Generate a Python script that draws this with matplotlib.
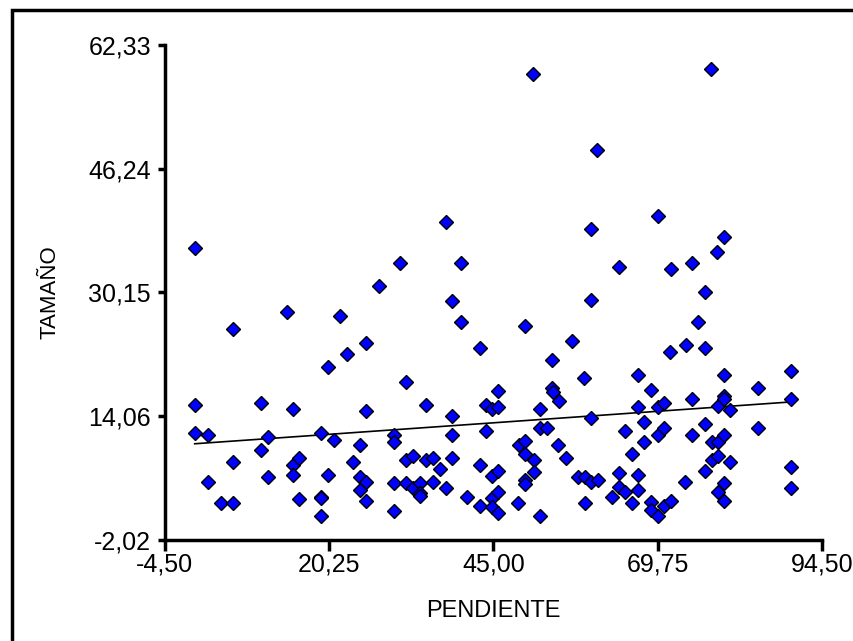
import numpy as np
import matplotlib
matplotlib.use("Agg")
import matplotlib.pyplot as plt
from matplotlib.patches import Rectangle

# slope (PENDIENTE) and size (TAMAÑO) of each sample
pendiente = [
    0.0, 0.0, 0.0, 2.0, 5.76, 5.76, 2.0, 3.9, 5.76, 10.0,
    11.0, 10.0, 11.0, 13.87, 14.87, 14.87, 15.77, 14.87, 15.77, 19.0,
    19.0, 19.0, 19.0, 20.03, 20.03, 20.98, 21.9, 22.9, 23.9, 24.9,
    24.9, 25.8, 24.9, 25.8, 25.8, 25.8, 27.8, 30.0, 30.0, 30.0,
    30.0, 31.0, 31.9, 31.9, 32.9, 31.9, 32.9, 33.9, 33.9, 33.9,
    34.9, 34.9, 35.9, 35.9, 36.9, 37.8, 37.8, 38.7, 38.75, 38.75,
    38.75, 40.05, 40.05, 41.06, 43.0, 43.0, 43.0, 43.96, 43.96, 44.8,
    45.66, 45.66, 44.8, 45.66, 44.8, 44.8, 45.66, 45.66,
    48.8, 49.7, 49.7, 48.7, 49.7, 49.7, 49.7, 51.07, 51.07, 50.97,
    51.97, 51.97, 53.0, 51.97, 53.8, 53.8, 53.97, 54.9, 54.8, 55.93,
    56.8, 57.74, 58.7, 58.73, 58.73, 59.73, 59.73, 59.73, 59.73, 60.68,
    60.74, 62.93, 63.94, 63.94, 63.94, 64.84, 64.9, 65.85, 65.85, 66.84,
    66.84, 66.84, 66.84, 67.74, 67.74, 68.75, 68.75, 68.75, 69.75, 69.75,
    69.75, 69.75, 70.75, 70.75, 70.75, 71.7, 71.6, 71.75, 74.0, 73.9,
    74.86, 74.86, 74.86, 75.85, 76.85, 76.85, 76.85, 76.85, 77.8, 77.86,
    77.86, 78.76, 78.86, 78.86, 78.86, 78.86, 79.76, 79.76, 79.76, 79.76,
    79.76, 79.76, 79.76, 80.7, 80.7, 84.87, 84.87, 89.8, 89.8, 89.8,
    89.8,
]
tamano = [
    35.95, 15.52, 11.86, 11.66, 25.39, 8.05, 5.55, 2.85, 2.85, 15.82,
    11.35, 9.68, 6.12, 27.67, 15.0, 7.79, 8.57, 6.42, 3.32, 11.86,
    3.62, 3.4, 1.14, 20.49, 6.42, 11.01, 27.11, 22.17, 8.05, 10.28,
    6.12, 5.55, 4.48, 3.07, 23.55, 14.7, 30.98, 11.57, 10.71, 5.35,
    1.69, 34.02, 18.56, 8.35, 8.9, 5.35, 4.7, 5.35, 4.06, 3.71,
    15.5, 8.35, 8.57, 5.55, 7.19, 39.26, 4.7, 29.05, 14.14, 11.66,
    8.57, 34.02, 26.29, 3.62, 22.99, 7.79, 2.46, 15.5, 12.12, 15.0,
    17.36, 15.21, 6.33, 6.97, 3.41, 2.33, 4.19, 1.48,
    10.28, 10.8, 9.21, 2.77, 25.83, 5.77, 5.26, 8.35, 6.84, 58.58,
    15.0, 12.51, 12.51, 1.14, 21.32, 17.79, 17.15, 16.08, 10.28, 8.57,
    23.8, 6.12, 19.08, 6.12, 2.77, 38.4, 29.18, 13.85, 5.55, 48.7,
    5.77, 3.62, 33.46, 6.71, 4.91, 12.12, 4.19, 9.21, 2.85, 19.39,
    15.21, 6.42, 4.48, 13.28, 10.76, 17.46, 2.98, 1.91, 40.12, 15.21,
    11.57, 1.05, 15.73, 12.51, 2.42, 33.17, 22.43, 3.1, 23.29, 5.55,
    34.02, 16.3, 11.66, 26.29, 30.15, 22.94, 13.07, 6.97, 59.14, 10.71,
    8.35, 35.4, 15.43, 10.71, 8.9, 4.19, 37.33, 19.39, 16.72, 16.3,
    11.66, 5.35, 3.07, 14.92, 8.05, 17.71, 12.51, 19.94, 16.3, 7.49,
    4.7,
]

xticks = [-4.50, 20.25, 45.00, 69.75, 94.50]
yticks = [-2.02, 14.06, 30.15, 46.24, 62.33]

plt.rcParams['font.family'] = ['Liberation Sans', 'DejaVu Sans']

fig = plt.figure(figsize=(8.54, 6.41), dpi=100)
ax = fig.add_axes([0.193, 0.1576, 0.7695, 0.7724])

x = np.array(pendiente)
y = np.array(tamano)

# least squares line over the observed range
b, a = np.polyfit(x, y, 1)
xs = np.array([x.min(), x.max()])
ax.plot(xs, a + b * xs, color='black', lw=1.2, zorder=2)

ax.plot(x, y, linestyle='none', marker='D', markersize=7,
        markerfacecolor='#0000ff', markeredgecolor='black',
        markeredgewidth=1.0, zorder=3)

ax.set_xlim(xticks[0], xticks[-1])
ax.set_ylim(yticks[0], yticks[-1])
ax.set_xticks(xticks)
ax.set_yticks(yticks)
ax.set_xticklabels([f"{v:.2f}".replace('.', ',') for v in xticks])
ax.set_yticklabels([f"{v:.2f}".replace('.', ',') for v in yticks])

for side in ['top', 'right']:
    ax.spines[side].set_visible(False)
for side in ['left', 'bottom']:
    ax.spines[side].set_linewidth(2.5)
    ax.spines[side].set_color('black')

ax.tick_params(axis='x', direction='out', length=8, width=2.5,
               labelsize=18, pad=1)
ax.tick_params(axis='y', direction='out', length=5, width=2.5,
               labelsize=18, pad=5)

ax.set_xlabel('PENDIENTE', fontsize=17, labelpad=17)
ax.set_ylabel('TAMAÑO', fontsize=16, labelpad=20)

# frame around the whole graphic
fig.patches.append(Rectangle((12 / 854, -0.1), 1.2, 1.1 - 10 / 641,
                             transform=fig.transFigure, fill=False,
                             edgecolor='black', linewidth=2.5))

fig.savefig('out.png', dpi=100)
